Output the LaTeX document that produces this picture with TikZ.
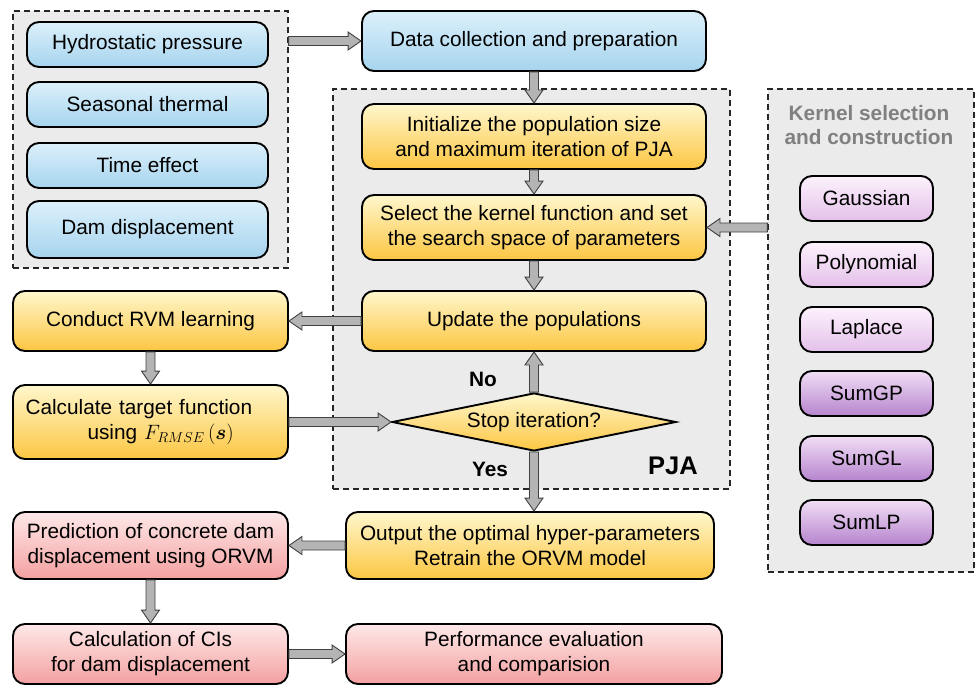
\documentclass[tikz,border=0pt]{standalone}
\usepackage{fontspec}
\setmainfont{Liberation Sans}
\usepackage{bm}
\usetikzlibrary{shapes.geometric,calc}
\definecolor{grpfill}{RGB}{235,235,235}
\definecolor{arrfill}{RGB}{180,180,180}
\definecolor{blueT}{RGB}{220,240,251}
\definecolor{blueB}{RGB}{166,212,238}
\definecolor{oraT}{RGB}{255,247,204}
\definecolor{oraB}{RGB}{252,198,66}
\definecolor{redT}{RGB}{254,232,232}
\definecolor{redB}{RGB}{244,160,160}
\definecolor{pinkT}{RGB}{252,242,252}
\definecolor{pinkB}{RGB}{228,192,234}
\definecolor{purT}{RGB}{241,222,245}
\definecolor{purB}{RGB}{182,132,206}
\def\aw{4.5pt}\def\aH{9pt}\def\ah{13pt}
\newcommand\barrow[2]{%
\draw[barr] let \p1=#1, \p2=#2, \n1={atan2(\y2-\y1,\x2-\x1)}, \n2={veclen(\x2-\x1,\y2-\y1)}, \n3={cos(\n1)}, \n4={sin(\n1)} in
 ({\x1-\n4*\aw},{\y1+\n3*\aw})
 -- ({\x1+\n3*(\n2-\ah)-\n4*\aw},{\y1+\n4*(\n2-\ah)+\n3*\aw})
 -- ({\x1+\n3*(\n2-\ah)-\n4*\aH},{\y1+\n4*(\n2-\ah)+\n3*\aH})
 -- (\p2)
 -- ({\x1+\n3*(\n2-\ah)+\n4*\aH},{\y1+\n4*(\n2-\ah)-\n3*\aH})
 -- ({\x1+\n3*(\n2-\ah)+\n4*\aw},{\y1+\n4*(\n2-\ah)-\n3*\aw})
 -- ({\x1+\n4*\aw},{\y1-\n3*\aw}) -- cycle;}
\begin{document}
\begin{tikzpicture}[x=1pt,y=-1pt,
  box/.style={rectangle, rounded corners=12pt, draw=black, line width=1.9pt, inner sep=0pt, align=center, font=\fontsize{20.8}{25}\selectfont},
  bluebox/.style={box, top color=blueT, bottom color=blueB},
  orabox/.style={box, top color=oraT, bottom color=oraB},
  redbox/.style={box, top color=redT, bottom color=redB},
  pinkbox/.style={box, top color=pinkT, bottom color=pinkB, minimum width=133pt, minimum height=45pt},
  purbox/.style={box, top color=purT, bottom color=purB, minimum width=133pt, minimum height=45pt},
  grp/.style={rectangle, draw=black!85, fill=grpfill, line width=1.3pt, dash pattern=on 6pt off 4pt, inner sep=0pt},
  barr/.style={fill=arrfill, draw=black!75, line width=0.9pt, line join=miter},
  lbl/.style={font=\bfseries\fontsize{20.8}{25}\selectfont}
]
\useasboundingbox (0,0) rectangle (976,687);
% groups
\node[grp, minimum width=275pt, minimum height=257pt] (lg) at (150.5,139.5) {};
\node[grp, minimum width=397pt, minimum height=400pt] (pja) at (531.5,289) {};
\node[grp, minimum width=206pt, minimum height=483pt] (kg) at (871,330.5) {};
% left inputs
\node[bluebox, minimum width=241pt, minimum height=45pt] (hp) at (147.5,44.5) {Hydrostatic pressure};
\node[bluebox, minimum width=241pt, minimum height=45pt] (st) at (147.5,104.5) {Seasonal thermal};
\node[bluebox, minimum width=241pt, minimum height=45pt] (te) at (147.5,165.5) {Time effect};
\node[bluebox, minimum width=241pt, minimum height=57pt] (dd) at (147.5,229.5) {Dam displacement};
% main column
\node[bluebox, minimum width=344pt, minimum height=60pt] (data) at (534,41) {Data collection and preparation};
\node[orabox, minimum width=344pt, minimum height=65pt] (init) at (534,136.5) {Initialize the population size\\and maximum iteration of PJA};
\node[orabox, minimum width=344pt, minimum height=65pt] (sel) at (534,227.5) {Select the kernel function and set\\the search space of parameters};
\node[orabox, minimum width=344pt, minimum height=60pt] (upd) at (534,321) {Update the populations};
\node[diamond, aspect=4.9, inner sep=0pt, minimum width=284pt, minimum height=58pt, draw=black, line width=1.9pt, top color=oraT, bottom color=oraB, font=\fontsize{20.8}{25}\selectfont] (stop) at (534,422) {Stop iteration?};
\node[lbl] (no) at (483,379) {No};
\node[lbl] (yes) at (490,469) {Yes};
\node[font=\bfseries\fontsize{25.5}{30}\selectfont] (pjal) at (673,466) {PJA};
% kernels
\node[font=\bfseries\fontsize{20.8}{24}\selectfont, text=black!50, align=center] (kt) at (869,125) {Kernel selection\\and construction};
\node[pinkbox] (k1) at (866.5,198.5) {Gaussian};
\node[pinkbox] (k2) at (866.5,264.5) {Polynomial};
\node[pinkbox] (k3) at (866.5,329.5) {Laplace};
\node[purbox] (k4) at (866.5,393.5) {SumGP};
\node[purbox] (k5) at (866.5,458.5) {SumGL};
\node[purbox] (k6) at (866.5,522.5) {SumLP};
% left column
\node[orabox, minimum width=275pt, minimum height=74pt, text width=250pt, align=left] (calc) at (150.5,422) {Calculate target function\\\hspace*{62pt}using $F_{RMSE}\left(\vrule height 16pt depth 6pt width 0pt\bm{s}\right)$};
\node[orabox, minimum width=275pt, minimum height=60pt] (rvm) at (150.5,321) {Conduct RVM learning};
\node[orabox, minimum width=368pt, minimum height=67pt] (out) at (530,545.5) {Output the optimal hyper-parameters\\Retrain the ORVM model};
\node[redbox, minimum width=275pt, minimum height=67pt] (pred) at (150.5,545.5) {Prediction of concrete dam\\displacement using ORVM};
\node[redbox, minimum width=275pt, minimum height=60pt] (cis) at (150.5,654) {Calculation of CIs\\for dam displacement};
\node[redbox, minimum width=376pt, minimum height=60pt] (perf) at (534,654) {Performance evaluation\\and comparision};
% arrows
\barrow{(lg.east |- data.west)}{(data.west)}
\barrow{(data.south)}{(init.north)}
\barrow{(init.south)}{(sel.north)}
\barrow{(kg.west |- sel.east)}{(sel.east)}
\barrow{(sel.south)}{(upd.north)}
\barrow{(upd.west)}{(rvm.east)}
\barrow{(rvm.south)}{(calc.north)}
\barrow{(calc.east)}{(stop.west)}
\barrow{(stop.north)}{(upd.south)}
\barrow{(stop.south)}{(stop.south |- out.north)}
\barrow{(out.west)}{(pred.east)}
\barrow{(pred.south)}{(cis.north)}
\barrow{(cis.east)}{(perf.west)}
\end{tikzpicture}
\end{document}
